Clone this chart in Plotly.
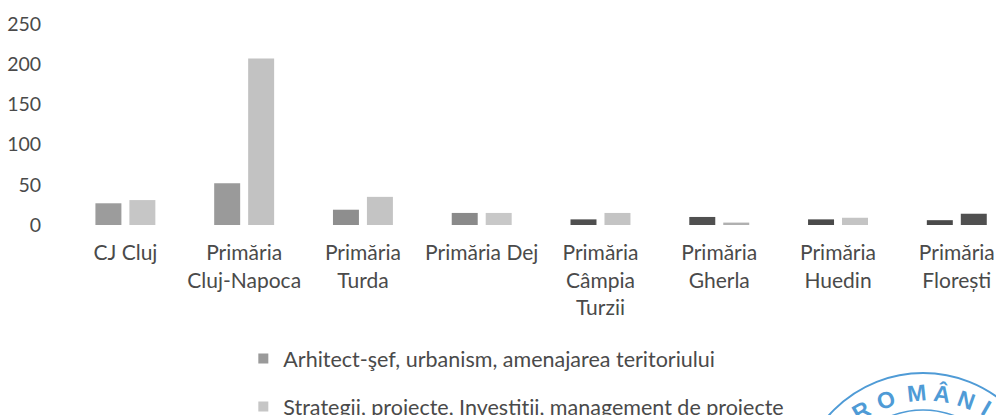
import plotly.graph_objects as go

categories = ["CJ Cluj", "Primăria<br>Cluj-Napoca", "Primăria<br>Turda", "Primăria Dej",
              "Primăria<br>Câmpia<br>Turzii", "Primăria<br>Gherla", "Primăria<br>Huedin", "Primăria<br>Florești"]
arhitect = [27, 52, 19, 15, 7, 10, 7, 6]
strategii = [31, 207, 35, 15, 15, 3, 9, 14]
name_a = "Arhitect-şef, urbanism, amenajarea teritoriului"
name_s = "Strategii, proiecte, Investiţii, management de proiecte"
colors_a = ["#9c9c9c", "#9a9a9a", "#8e8e8e", "#8a8a8a", "#4f4f4f", "#505050", "#4a4a4a", "#4a4a4a"]
colors_s = ["#c6c6c6", "#c2c2c2", "#c4c4c4", "#c8c8c8", "#c4c4c4", "#b0b0b0", "#c4c4c4", "#505050"]
yticks = [0, 50, 100, 150, 200, 250]
seal_letters = ["R", "O", "M", "Â", "N", "I"]
seal_blue = "#4f9bd6"
text_col = "#4a4a4a"
FONT = "Lato, 'Open Sans', sans-serif"
W, H = 996, 415
ML, MT, MB = 65.6, 24, 190


def px(x):
    return (x - ML) / (W - ML)


def py(y):
    return 1 - (y - MT) / (H - MT - MB)


fig = go.Figure()
fig.add_bar(x=list(range(8)), y=arhitect, marker_color=colors_a, marker_line_width=0, showlegend=False, name=name_a)
fig.add_bar(x=list(range(8)), y=strategii, marker_color=colors_s, marker_line_width=0, showlegend=False, name=name_s)
fig.add_scatter(x=[None], y=[None], mode="markers", name=name_a, legendgroup="a",
                marker=dict(symbol="square", size=10, color="#9a9a9a"))
fig.add_scatter(x=[None], y=[None], mode="markers", name=name_s, legendgroup="s",
                marker=dict(symbol="square", size=10, color="#c6c6c6"))

fig.update_layout(
    width=W, height=H, autosize=False,
    margin=dict(l=ML, r=0, t=MT, b=MB, pad=0, autoexpand=False),
    plot_bgcolor="white", paper_bgcolor="white",
    barmode="group", bargap=0.428, bargroupgap=0.235,
    font=dict(family=FONT, size=18, color=text_col),
    legend=dict(x=px(243), y=py(338), xanchor="left", yanchor="top", tracegroupgap=17,
                font=dict(size=21.5, color=text_col), bgcolor="rgba(0,0,0,0)"),
)
fig.update_xaxes(range=[-0.5, 7.33], tickmode="array", tickvals=list(range(8)), ticktext=categories,
                 showgrid=False, zeroline=False, showline=False, ticks="outside", ticklen=9,
                 tickcolor="rgba(0,0,0,0)", tickfont=dict(size=21))
fig.update_yaxes(range=[0, 250], tickvals=yticks, showgrid=False, zeroline=False, showline=False,
                 ticks="outside", ticklen=20, tickcolor="rgba(0,0,0,0)", tickfont=dict(size=19.5))

# stamp
for r, wd in [(126, 2), (89, 1.5)]:
    fig.add_shape(type="circle", xref="paper", yref="paper", x0=px(923 - r), x1=px(923 + r),
                  y0=py(499 + r), y1=py(499 - r), line=dict(color=seal_blue, width=wd))
seal_x = [861, 886, 916, 942, 966, 986]
seal_y = [411, 400, 393, 393, 400, 408]
seal_a = [-30, -20, -6, 8, 20, 30]
for ch, xx, yy, aa in zip(seal_letters, seal_x, seal_y, seal_a):
    fig.add_annotation(text="<b>" + ch + "</b>", xref="paper", yref="paper", x=px(xx), y=py(yy), showarrow=False,
                       xanchor="center", yanchor="middle", textangle=aa,
                       font=dict(size=23, color=seal_blue, family="Liberation Sans"))

fig.write_html("out.html", config=dict(displayModeBar=False),
               post_script="document.body.style.margin='0';document.documentElement.style.overflow='hidden';")
